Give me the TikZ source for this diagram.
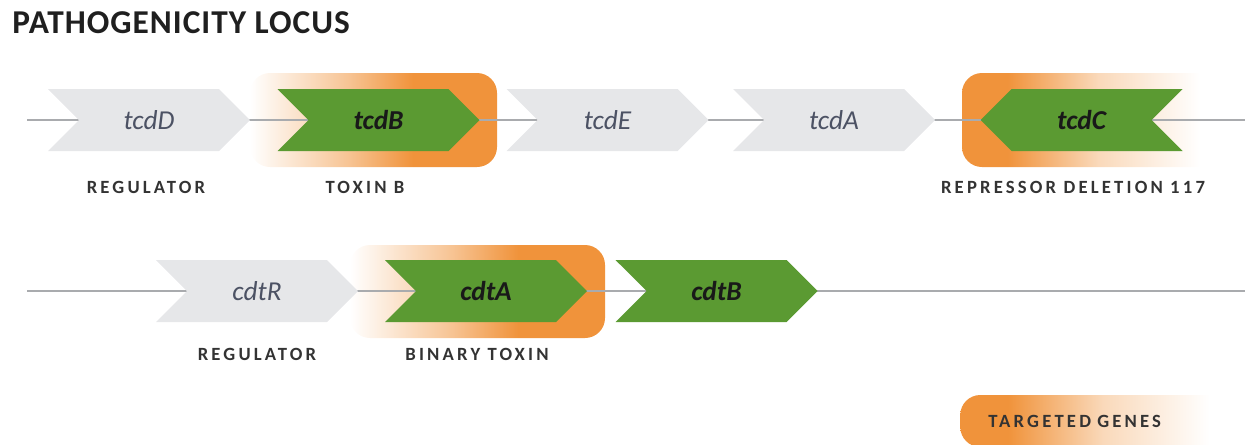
\documentclass[tikz,border=0pt]{standalone}
\usepackage{fontspec}
\setmainfont{Carlito}
\newfontfamily\rolefont[LetterSpace=17]{Carlito}
\newfontfamily\headfont[LetterSpace=3]{Carlito}
\usetikzlibrary{shapes.symbols}
\definecolor{genegreen}{HTML}{5B9A32}
\definecolor{genegray}{HTML}{E6E7E9}
\definecolor{targetorange}{HTML}{F0933B}
\definecolor{linegray}{HTML}{A9ABAE}
\definecolor{namegray}{HTML}{4C5264}
\definecolor{labeldark}{HTML}{333333}
\colorlet{orangehalf}{targetorange!55!white}
\colorlet{orangepale}{targetorange!35!white}

\pgfdeclarehorizontalshading{fadein}{100bp}{color(0bp)=(white); color(25bp)=(white); color(45bp)=(orangehalf); color(58bp)=(targetorange); color(100bp)=(targetorange)}
\pgfdeclarehorizontalshading{fadeout}{100bp}{color(0bp)=(targetorange); color(34bp)=(targetorange); color(52bp)=(orangepale); color(72bp)=(white); color(100bp)=(white)}

\pgfdeclarelayer{boxes}
\pgfdeclarelayer{wires}
\pgfsetlayers{boxes,wires,main}

\tikzset{
  gene/.style={signal, signal to=east, signal from=west, signal pointer angle=90,
    minimum width=151.5pt, minimum height=46.5pt, inner sep=0pt,
    font=\itshape\fontsize{20.5}{24}\selectfont},
  plaingene/.style={gene, fill=genegray, text=namegray},
  toxingene/.style={gene, fill=genegreen, text=black!90,
    font=\bfseries\itshape\fontsize{20.5}{24}\selectfont},
  backward/.style={signal to=west, signal from=east},
  hilite/.style={rounded corners=15pt, inner sep=0pt},
  wire/.style={draw=linegray, line width=1.5pt},
  role/.style={font=\rolefont\bfseries\fontsize{14}{16}\selectfont, text=labeldark}
}

\begin{document}
\begin{tikzpicture}[x=0.75pt, y=-0.75pt]
\useasboundingbox (0,0) rectangle (1245,444);

\node[anchor=west, inner sep=0pt, text=black!88,
  font=\headfont\bfseries\fontsize{25}{29}\selectfont] (title) at (12,23) {PATHOGENICITY LOCUS};

% targeted genes
\begin{pgfonlayer}{boxes}
  \node[hilite, shading=fadein, minimum width=185.25pt, minimum height=70.5pt] (markB) at (373.5,120) {};
  \node[hilite, shading=fadeout, minimum width=189.75pt, minimum height=70.5pt] (markC) at (1088.5,120) {};
  \node[hilite, shading=fadein, minimum width=191.25pt, minimum height=69.75pt] (markA) at (477.5,291.5) {};
\end{pgfonlayer}

% row 1
\node[plaingene] (tcdD) at (149,120) {tcdD};
\node[toxingene] (tcdB) at (378.5,120) {tcdB};
\node[plaingene] (tcdE) at (607.5,120) {tcdE};
\node[plaingene] (tcdA) at (834,120) {tcdA};
\node[toxingene, backward] (tcdC) at (1081.5,120) {tcdC};
\coordinate (startA) at (27,120);
\coordinate (endA) at (1245,120);

% row 2
\node[plaingene] (cdtR) at (257,291) {cdtR};
\node[toxingene] (cdtA) at (486,291) {cdtA};
\node[toxingene] (cdtB) at (716.5,291) {cdtB};
\coordinate (startB) at (27,291);
\coordinate (endB) at (1245,291);

\begin{pgfonlayer}{wires}
  \draw[wire] (startA) -- (tcdD.center) -- (tcdB.center) -- (tcdE.center)
    -- (tcdA.center) -- (tcdC.center) -- (endA);
  \draw[wire] (startB) -- (cdtR.center) -- (cdtA.center) -- (cdtB.center) -- (endB);
\end{pgfonlayer}

% roles
\node[role] (roleD) at (146,187) {REGULATOR};
\node[role] (roleB) at (365,187) {TOXIN B};
\node[role] (roleC) at (1073,187) {REPRESSOR DELETION 117};
\node[role] (roleR) at (257,354) {REGULATOR};
\node[role] (roleA) at (477,354) {BINARY TOXIN};

% legend
\node[hilite, shading=fadeout, role, anchor=west, minimum height=39pt,
  text width=156.75pt, inner xsep=21pt, align=left] (legend) at (960,421) {TARGETED GENES};
\end{tikzpicture}
\end{document}
